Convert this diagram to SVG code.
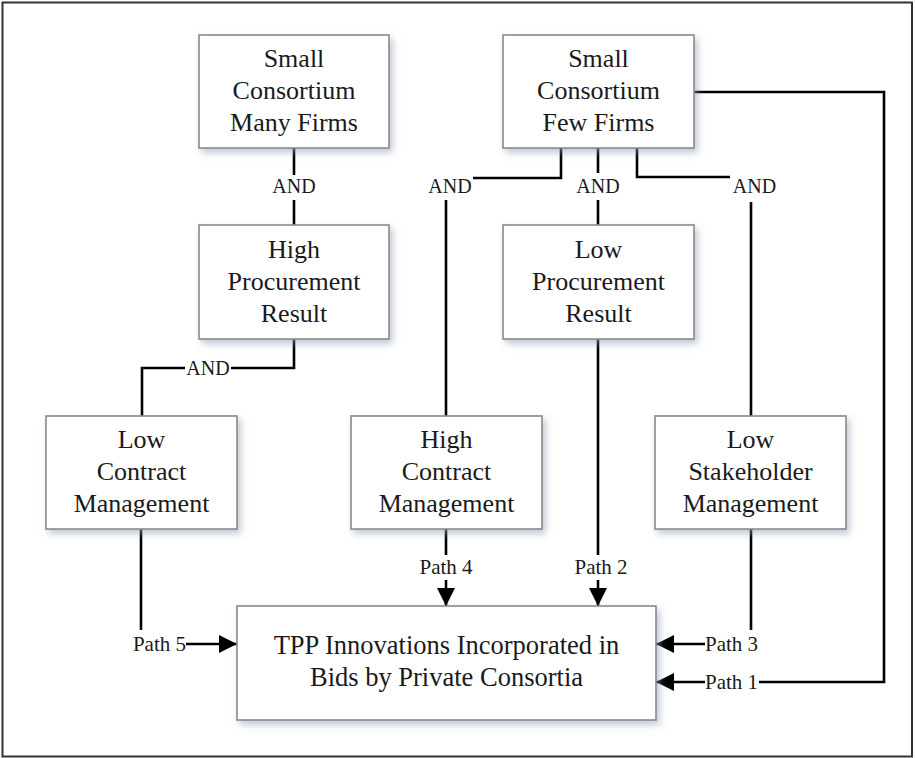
<svg xmlns="http://www.w3.org/2000/svg" width="915" height="758" viewBox="0 0 915 758">
<style>
.box{fill:#fff;stroke:#8a8a8a;stroke-width:1.6;filter:url(#sh)}
.t{font-family:"Liberation Serif","Times New Roman",serif;font-size:26px;fill:#1a1a1a;text-anchor:middle}
.big{font-size:26.5px}
.lab{font-family:"Liberation Serif","Times New Roman",serif;font-size:20px;fill:#1a1a1a;text-anchor:middle}
.path{font-family:"Liberation Serif","Times New Roman",serif;font-size:21px;fill:#1a1a1a}
.c{fill:none;stroke:#000;stroke-width:2.6}
.a{fill:none;stroke:#000;stroke-width:2.6;marker-end:url(#arr)}
</style>
<defs>
<filter id="sh" x="-10%" y="-10%" width="125%" height="130%">
<feDropShadow dx="3" dy="4" stdDeviation="3.5" flood-color="#8c9bb3" flood-opacity="0.55"/>
</filter>
<marker id="arr" markerUnits="userSpaceOnUse" markerWidth="18" markerHeight="18" viewBox="0 0 10 10" refX="10" refY="5" orient="auto">
<path d="M0,0 L10,5 L0,10 z" fill="#000"/>
</marker>
</defs>
<rect x="2.5" y="2.5" width="909.5" height="754" fill="#fff" stroke="#333" stroke-width="2"/>

<g id="connectors">
<line class="c" x1="294" y1="148" x2="294" y2="175"/>
<line class="c" x1="294" y1="200" x2="294" y2="225"/>
<polyline class="c" points="561,148 561,178 473,178"/>
<line class="c" x1="446" y1="200" x2="446" y2="416"/>
<line class="c" x1="598" y1="148" x2="598" y2="173"/>
<line class="c" x1="598" y1="200" x2="598" y2="225"/>
<polyline class="c" points="637,148 637,177 730,177"/>
<line class="c" x1="751" y1="202" x2="751" y2="416"/>
<polyline class="c" points="294,339 294,368 231,368"/>
<polyline class="c" points="185,368 142,368 142,416"/>
<line class="c" x1="446" y1="529" x2="446" y2="555"/>
<line class="a" x1="446" y1="580" x2="446" y2="606"/>
<line class="c" x1="598" y1="339" x2="598" y2="555"/>
<line class="a" x1="598" y1="580" x2="598" y2="606"/>
<line class="c" x1="141" y1="529" x2="141" y2="630"/>
<line class="a" x1="186" y1="644" x2="237" y2="644"/>
<line class="c" x1="751" y1="529" x2="751" y2="630"/>
<line class="a" x1="705" y1="644" x2="656" y2="644"/>
<polyline class="c" points="694,92 884,92 884,682 759,682"/>
<line class="a" x1="705" y1="682" x2="656" y2="682"/>
<text class="lab" x="294" y="193">AND</text>
<text class="lab" x="450" y="193">AND</text>
<text class="lab" x="598" y="193">AND</text>
<text class="lab" x="754.5" y="193">AND</text>
<text class="lab" x="208" y="375">AND</text>
<text class="path" x="446" y="574" text-anchor="middle">Path 4</text>
<text class="path" x="601" y="574" text-anchor="middle">Path 2</text>
<text class="path" x="186" y="651" text-anchor="end">Path 5</text>
<text class="path" x="705" y="651">Path 3</text>
<text class="path" x="705" y="689">Path 1</text>
</g>

<g id="n1">
<rect class="box" x="199" y="35" width="190" height="113"/>
<text class="t" x="294" y="67">Small</text>
<text class="t" x="294" y="99">Consortium</text>
<text class="t" x="294" y="131">Many Firms</text>
</g>
<g id="n2">
<rect class="box" x="503" y="35" width="191" height="113"/>
<text class="t" x="598.5" y="67">Small</text>
<text class="t" x="598.5" y="99">Consortium</text>
<text class="t" x="598.5" y="131">Few Firms</text>
</g>
<g id="n3">
<rect class="box" x="199" y="225" width="190" height="114"/>
<text class="t" x="294" y="258">High</text>
<text class="t" x="294" y="290">Procurement</text>
<text class="t" x="294" y="322">Result</text>
</g>
<g id="n4">
<rect class="box" x="503" y="225" width="191" height="114"/>
<text class="t" x="598.5" y="258">Low</text>
<text class="t" x="598.5" y="290">Procurement</text>
<text class="t" x="598.5" y="322">Result</text>
</g>
<g id="n5">
<rect class="box" x="46" y="416" width="191" height="113"/>
<text class="t" x="141.5" y="448">Low</text>
<text class="t" x="141.5" y="480">Contract</text>
<text class="t" x="141.5" y="512">Management</text>
</g>
<g id="n6">
<rect class="box" x="351" y="416" width="191" height="113"/>
<text class="t" x="446.5" y="448">High</text>
<text class="t" x="446.5" y="480">Contract</text>
<text class="t" x="446.5" y="512">Management</text>
</g>
<g id="n7">
<rect class="box" x="655" y="416" width="191" height="113"/>
<text class="t" x="750.5" y="448">Low</text>
<text class="t" x="750.5" y="480">Stakeholder</text>
<text class="t" x="750.5" y="512">Management</text>
</g>
<g id="n8">
<rect class="box" x="237" y="606" width="419" height="114"/>
<text class="t big" x="446.5" y="654">TPP Innovations Incorporated in</text>
<text class="t big" x="446.5" y="686">Bids by Private Consortia</text>
</g>
</svg>
